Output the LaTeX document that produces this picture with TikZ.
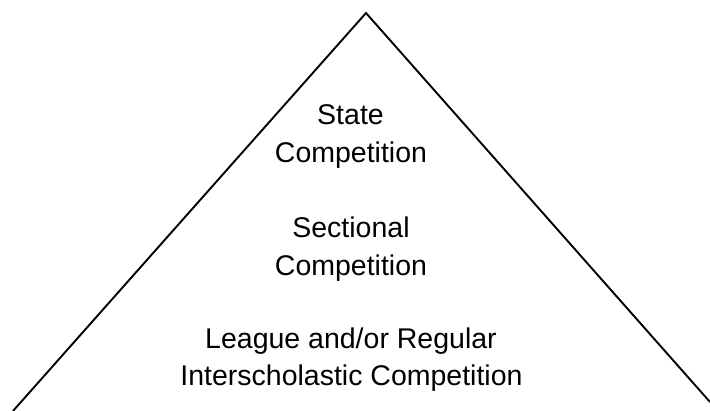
\documentclass[tikz,border=0pt]{standalone}
\usepackage{fontspec}
\setmainfont{Liberation Sans}
\begin{document}
\begin{tikzpicture}[x=1pt,y=-1pt,
  label/.style={anchor=base,inner sep=0pt,font=\fontsize{28.5}{34}\selectfont},
  edge/.style={line width=1.9pt,line join=miter}]
\useasboundingbox (0,0) rectangle (710,411);
\clip (0,0) rectangle (710,411);
\coordinate (L) at (13,411);
\coordinate (A) at (366,13);
\coordinate (R) at (710,402);
\draw[edge] (L) -- (A) -- (R);
\node[label] (t1) at (350.5,125) {State};
\node[label] (t2) at (351,163) {Competition};
\node[label] (t3) at (351,238) {Sectional};
\node[label] (t4) at (351,276) {Competition};
\node[label] (t5) at (351,349) {League and/or Regular};
\node[label] (t6) at (351.5,386) {Interscholastic Competition};
\end{tikzpicture}
\end{document}
